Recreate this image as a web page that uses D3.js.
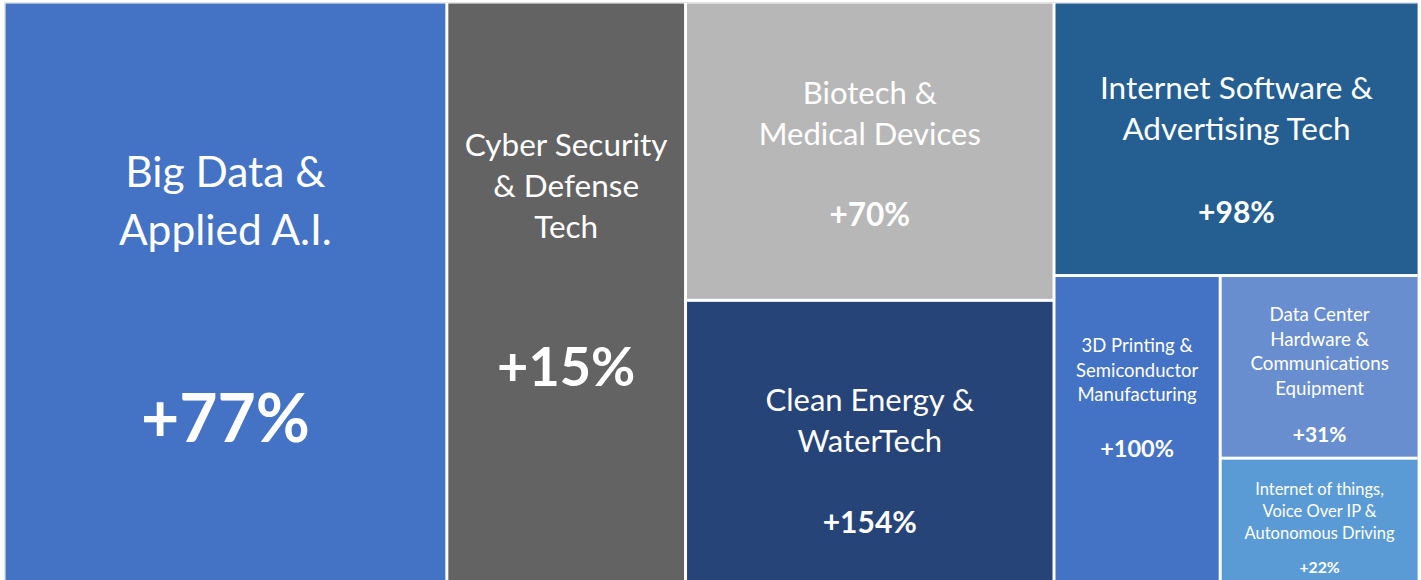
<!DOCTYPE html>
<html>
<head>
<meta charset="utf-8">
<script src="https://cdn.jsdelivr.net/npm/d3@7"></script>
<style>
  html, body { margin: 0; padding: 0; background: #fff; }
  svg { display: block; }
</style>
</head>
<body>
<svg id="chart" width="1421" height="580"></svg>
<script>
// ---- data ----
const categories = [
  "Big Data & Applied A.I.",
  "Cyber Security & Defense Tech",
  "Biotech & Medical Devices",
  "Clean Energy & WaterTech",
  "Internet Software & Advertising Tech",
  "3D Printing & Semiconductor Manufacturing",
  "Data Center Hardware & Communications Equipment",
  "Internet of things, Voice Over IP & Autonomous Driving"
];
const labelLines = [
  ["Big Data &", "Applied A.I."],
  ["Cyber Security", "& Defense", "Tech"],
  ["Biotech &", "Medical Devices"],
  ["Clean Energy &", "WaterTech"],
  ["Internet Software &", "Advertising Tech"],
  ["3D Printing &", "Semiconductor", "Manufacturing"],
  ["Data Center", "Hardware &", "Communications", "Equipment"],
  ["Internet of things,", "Voice Over IP &", "Autonomous Driving"]
];
const sizes = [256, 138, 109, 104, 99, 51, 36, 25];
const changes = ["+77%", "+15%", "+70%", "+154%", "+98%", "+100%", "+31%", "+22%"];
// grouping of the layout (nesting of tiles)
const groups = [0, 1, [2, 3], [4, [5, [6, 7]]]];

// ---- styles ----
const colors = ["#4472C4", "#636363", "#B7B7B7", "#264478", "#255E91", "#4472C4", "#698ED0", "#5B9BD5"];
// per-tile text style: label size, first baseline offset, line step, value size, value baseline offset (from tile top)
const textStyle = [
  {fs: 42.5, y0: 183, dy: 58, vfs: 66, vy: 438},
  {fs: 31.5, y0: 152, dy: 41, vfs: 54, vy: 382},
  {fs: 31, y0: 100, dy: 41, vfs: 31.5, vy: 222},
  {fs: 31, y0: 109, dy: 41, vfs: 30, vy: 231},
  {fs: 31.5, y0: 95,  dy: 41, vfs: 30, vy: 219},
  {fs: 18.5, y0: 75,  dy: 24.5, vfs: 23.5, vy: 180},
  {fs: 18.8, y0: 44, dy: 24.5, vfs: 21, vy: 165},
  {fs: 16.5, y0: 35,  dy: 22, vfs: 15.8, vy: 113}
];

function build(node) {
  if (Array.isArray(node)) return {children: node.map(build)};
  return {idx: node, value: sizes[node]};
}
const root = d3.hierarchy(build(groups)).sum(d => d.value || 0);

const svg = d3.select("#chart");

// faint frame
svg.append("rect").attr("x", 4.5).attr("y", 2.5).attr("width", 1413).attr("height", 590)
  .attr("fill", "none").attr("stroke", "#e4e4e4").attr("stroke-width", 1);

d3.treemap()
  .tile(d3.treemapSliceDice)
  .size([1412, 580])
  .paddingInner(3)(root);

const g = svg.append("g").attr("transform", "translate(5.5,3.5)");

const leaves = g.selectAll("g.tile").data(root.leaves()).join("g").attr("class", "tile")
  .attr("transform", d => `translate(${d.x0},${d.y0})`);

leaves.append("rect")
  .attr("width", d => d.x1 - d.x0)
  .attr("height", d => d.y1 - d.y0)
  .attr("fill", d => colors[d.data.idx]);

leaves.each(function(d) {
  const i = d.data.idx;
  const s = textStyle[i];
  const cx = (d.x1 - d.x0) / 2;
  const sel = d3.select(this);
  const t = sel.append("text")
    .attr("text-anchor", "middle")
    .attr("fill", "#fff")
    .style("font-family", "Lato, 'Open Sans', sans-serif")
    .style("font-size", s.fs + "px");
  labelLines[i].forEach((line, k) => {
    t.append("tspan").attr("x", cx).attr("y", s.y0 + k * s.dy).text(line);
  });
  sel.append("text")
    .attr("text-anchor", "middle")
    .attr("x", cx).attr("y", s.vy)
    .attr("fill", "#fff")
    .style("font-family", "Lato, 'Open Sans', sans-serif")
    .style("font-weight", "bold")
    .style("font-size", s.vfs + "px")
    .text(changes[i]);
});
</script>
</body>
</html>
